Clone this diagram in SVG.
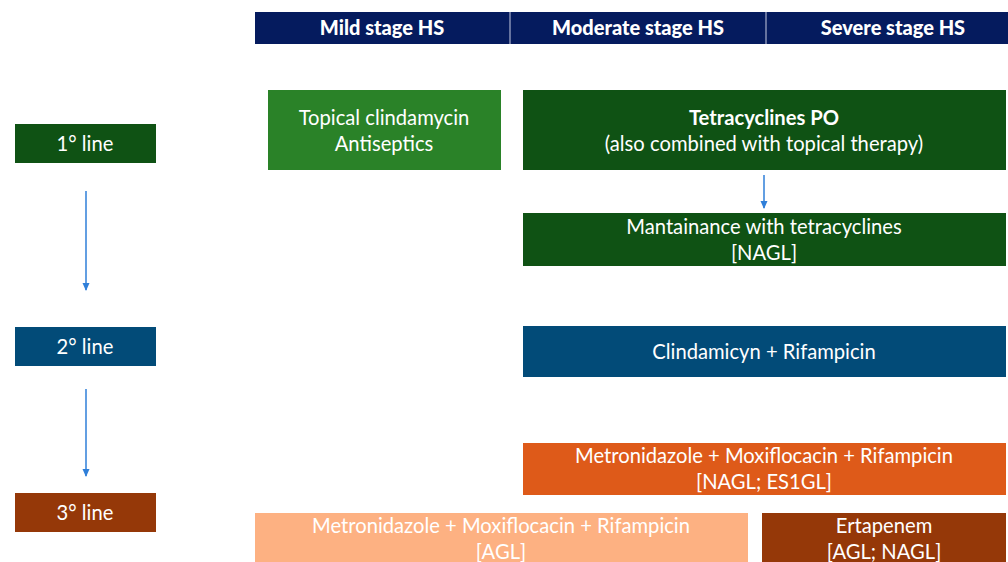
<svg xmlns="http://www.w3.org/2000/svg" width="1008" height="562" viewBox="0 0 1008 562">
<defs>
<style>
text{font-family:Lato,"Liberation Sans",sans-serif;fill:#fff;text-anchor:middle;font-size:20.2px}
.b{font-weight:bold}
.h{font-size:20px;font-weight:900}
.hdr{fill:#051b5e}
.g1{fill:#0f5214}
.g2{fill:#2a8228}
.bl{fill:#024b78}
.br{fill:#953808}
.or{fill:#de5a19}
.pe{fill:#fdb182}
.c{stroke:#2f7fd9;stroke-width:1.5;fill:none}
</style>
<marker id="ah" markerWidth="8" markerHeight="8" refX="7" refY="4" orient="auto" markerUnits="userSpaceOnUse" viewBox="0 0 8 8">
<path d="M0,0.5 L8,4 L0,7.5 Z" fill="#2f7fd9"/>
</marker>
</defs>
<rect width="1008" height="562" fill="#fff"/>
<g id="header">
<rect class="hdr" x="255" y="12" width="753" height="32"/>
<line x1="510" y1="12" x2="510" y2="44" stroke="#c8cce0" stroke-width="1"/>
<line x1="766" y1="12" x2="766" y2="44" stroke="#c8cce0" stroke-width="1"/>
<text class="h" x="382" y="35">Mild stage HS</text>
<text class="h" x="638" y="35">Moderate stage HS</text>
<text class="h" x="893" y="35">Severe stage HS</text>
</g>
<g id="line1">
<rect class="g1" x="15" y="124" width="141" height="39"/>
<text x="85" y="151">1° line</text>
</g>
<g id="line2">
<rect class="bl" x="15" y="327" width="141" height="39"/>
<text x="85" y="354">2° line</text>
</g>
<g id="line3">
<rect class="br" x="15" y="493" width="141" height="39"/>
<text x="85" y="520">3° line</text>
</g>
<g id="topical">
<rect class="g2" x="268" y="90" width="233" height="80"/>
<text x="384" y="125">Topical clindamycin</text>
<text x="384" y="151">Antiseptics</text>
</g>
<g id="tetra">
<rect class="g1" x="523" y="90" width="483" height="80"/>
<text class="b" x="764" y="125">Tetracyclines PO</text>
<text x="764" y="151">(also combined with topical therapy)</text>
</g>
<g id="maint">
<rect class="g1" x="523" y="213" width="483" height="53"/>
<text x="764" y="234">Mantainance with tetracyclines</text>
<text x="764" y="260">[NAGL]</text>
</g>
<g id="clinda">
<rect class="bl" x="523" y="326" width="483" height="51"/>
<text x="764" y="359">Clindamicyn + Rifampicin</text>
</g>
<g id="metro-mod">
<rect class="or" x="523" y="443" width="483" height="52"/>
<text x="764" y="463">Metronidazole + Moxiflocacin + Rifampicin</text>
<text x="764" y="489">[NAGL; ES1GL]</text>
</g>
<g id="metro-mild">
<rect class="pe" x="255" y="513" width="493" height="52"/>
<text x="501" y="533">Metronidazole + Moxiflocacin + Rifampicin</text>
<text x="501" y="559">[AGL]</text>
</g>
<g id="ertapenem">
<rect class="br" x="762" y="513" width="244" height="52"/>
<text x="884" y="533">Ertapenem</text>
<text x="884" y="559">[AGL; NAGL]</text>
</g>
<g id="connectors">
<line class="c" x1="764" y1="175" x2="764" y2="208" marker-end="url(#ah)"/>
<line class="c" x1="86" y1="191" x2="86" y2="290" marker-end="url(#ah)"/>
<line class="c" x1="86" y1="389" x2="86" y2="476" marker-end="url(#ah)"/>
</g>
</svg>
